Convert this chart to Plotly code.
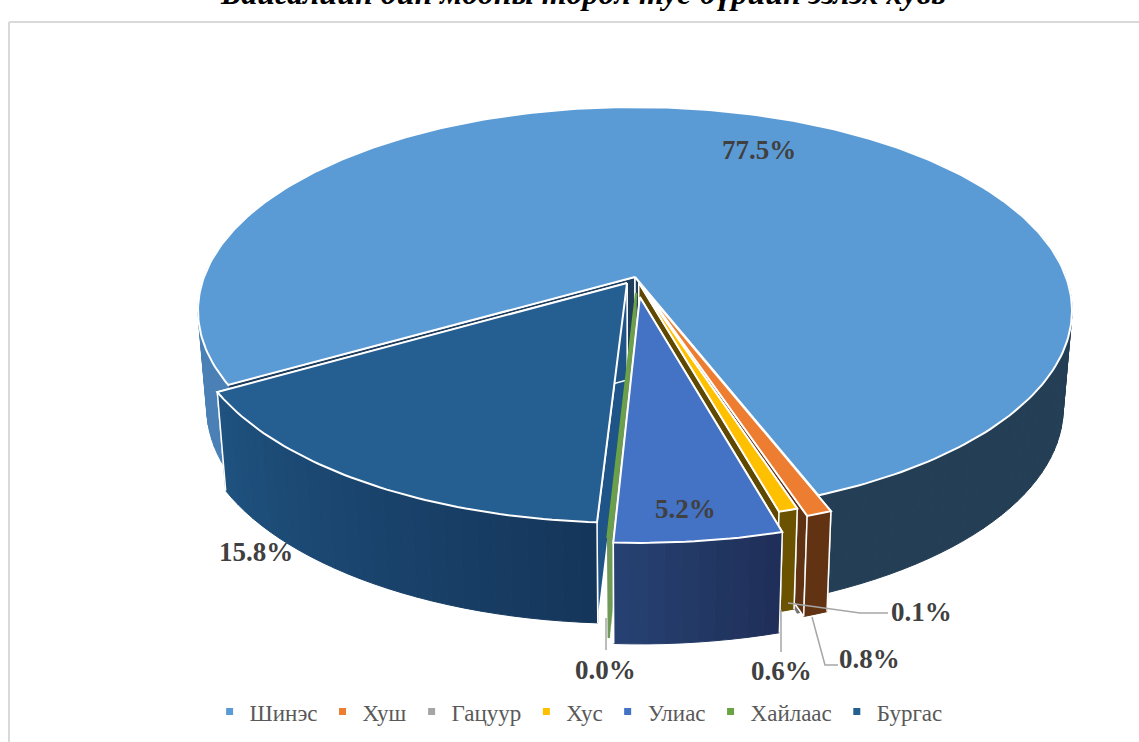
# plot.py
# 3D-looking exploded pie: slices are projected from their values with a small perspective helper

import math

import plotly.graph_objects as go

# Data
species = ["Шинэс", "Хуш", "Гацуур", "Хус", "Улиас", "Хайлаас", "Бургас"]
shares = [77.5, 0.8, 0.1, 0.6, 5.2, 0.04, 15.8]
title_text = "Байгалийн ойн модны төрөл тус бүрийн эзлэх хувь"

# Styling per slice
top_colors = ["#5B9BD5", "#ED7D31", "#A5A5A5", "#FFC000", "#4472C4", "#6AA343", "#255E91"]
wall_from = ["#4A80B5", "#623313", "#6E6E6E", "#6B5200", "#1F2E58", "#6F9A58", "#15365A"]
wall_to = ["#243F55", "#623313", "#6E6E6E", "#6B5200", "#264272", "#6F9A58", "#1F5280"]
face_colors = ["#1F3E5E", "#5E3213", "#777777", "#5F4800", "#1F2E58", "#6F9A58", "#1E5487"]
explode = [0.0, 0.06, 0.045, 0.03, 0.1, 0.08, 0.035]
side_shift = [0, 0, 0, 0, 0, 0.007, 0]
# back to front, so nearer slices paint over the others
draw_order = [0, 6, 2, 1, 3, 5, 4]

# Projection of the pie disc onto the page (pixels)
CX, CY = 635, 277
A, B, K = 431, 198, 0.165
START = 240
WALL_X_SCALE = 0.98
WALL_DY, WALL_DY_SCALE = 97, 0.015

# Label positions and leader lines (pixels)
label_pos = [(759, 150), (869, 659), (921, 612), (781, 671), (685, 509), (605, 670), (256, 552)]
leaders = [
    [(812, 617), (825, 665), (838, 665)],
    [(788, 603), (860, 613), (888, 613)],
    [(781, 610), (781, 652)],
    [(606, 618), (606, 650)],
]


def top_point(u, v):
    w = 1 + K * v
    return CX + A * u / w, CY - B * v / w


def bottom_point(u, v):
    x, y = top_point(u, v)
    return CX + (x - CX) * WALL_X_SCALE, y + WALL_DY + WALL_DY_SCALE * (y - CY)


def rim(angle, off):
    a = math.radians(angle)
    return math.sin(a) + off[0], math.cos(a) + off[1]


def mix(c1, c2, t):
    rgb1 = [int(c1[i:i + 2], 16) for i in (1, 3, 5)]
    rgb2 = [int(c2[i:i + 2], 16) for i in (1, 3, 5)]
    return "rgb({},{},{})".format(*[round(p + (q - p) * t) for p, q in zip(rgb1, rgb2)])


def poly(pts, fill=None, line="white", width=1.5):
    pts = list(pts) + [pts[0]]
    return go.Scatter(
        x=[p[0] for p in pts],
        y=[p[1] for p in pts],
        mode="lines",
        fill="toself" if fill else None,
        fillcolor=fill,
        line=dict(color=line, width=width),
        hoverinfo="skip",
        showlegend=False,
    )


fig = go.Figure()

total = sum(shares)
edges = [START]
for s in shares:
    edges.append(edges[-1] + s / total * 360)

for i in draw_order:
    a0, a1 = edges[i], edges[i + 1]
    mid = math.radians((a0 + a1) / 2)
    off = (explode[i] * math.sin(mid) + side_shift[i], explode[i] * math.cos(mid))
    thin = shares[i] < 0.2
    outline = top_colors[i] if shares[i] < 0.05 else ("#D8D8D8" if thin else "white")
    width = 2.5 if shares[i] < 0.05 else 2

    # radial cut faces (the ones looking away end up under the slice top)
    for ang in (a0, a1):
        ru, rv = rim(ang, off)
        quad = [
            top_point(*off), top_point(ru, rv),
            bottom_point(ru, rv), bottom_point(*off),
        ]
        fig.add_trace(poly(quad, face_colors[i], "white" if not thin else face_colors[i], 1.5 if not thin else 0.5))

    # outer wall, split in narrow strips for the shading
    steps = max(2, math.ceil((a1 - a0) / 2))
    strip = (a1 - a0) / steps
    for n in range(steps):
        b0, b1 = a0 + n * strip, a0 + (n + 1) * strip
        if math.cos(math.radians(b0)) > 0.2 and math.cos(math.radians(b1)) > 0.2:
            continue  # back of the pie
        if i == 0:
            col = wall_from[0] if math.sin(math.radians(b0)) < 0 else wall_to[0]
        else:
            col = mix(wall_from[i], wall_to[i], (n + 0.5) / steps)
        quad = [
            top_point(*rim(b0, off)), top_point(*rim(b1, off)),
            bottom_point(*rim(b1, off)), bottom_point(*rim(b0, off)),
        ]
        fig.add_trace(poly(quad, col, col, 1))

    # white outline of the wall (sides only, Шинэс has its ends hidden)
    if i != 0 and not thin:
        for ang in (a0, a1):
            ru, rv = rim(ang, off)
            fig.add_trace(poly([top_point(ru, rv), bottom_point(ru, rv)], None, "white", 1.5))

    # top of the slice
    n_arc = max(2, math.ceil(a1 - a0))
    arc = [top_point(*rim(a0 + (a1 - a0) * n / n_arc, off)) for n in range(n_arc + 1)]
    fig.add_trace(poly([top_point(*off)] + arc, top_colors[i], outline, width))

# leader lines
for pts in leaders:
    fig.add_trace(go.Scatter(
        x=[p[0] for p in pts], y=[p[1] for p in pts], mode="lines",
        line=dict(color="#A6A6A6", width=1.5), hoverinfo="skip", showlegend=False,
    ))

# legend entries
for name, col in zip(species, top_colors):
    fig.add_trace(go.Scatter(
        x=[None], y=[None], mode="markers", name=name,
        marker=dict(symbol="square", size=7, color=col),
    ))

# percent labels
for s, pos in zip(shares, label_pos):
    fig.add_annotation(
        x=pos[0], y=pos[1], text=f"<b>{s:.1f}%</b>", showarrow=False,
        font=dict(family="Liberation Serif", size=27, color="#404040"),
    )

# the title sits half above the page in the reference
fig.add_annotation(
    xref="paper", yref="paper", x=0.512, y=1.01, yanchor="middle",
    text=f"<b><i>{title_text}</i></b>", showarrow=False,
    font=dict(family="Liberation Serif", size=32, color="black"),
)

fig.update_layout(
    width=1139,
    height=742,
    margin=dict(l=0, r=0, t=0, b=0),
    paper_bgcolor="white",
    plot_bgcolor="white",
    xaxis=dict(range=[0, 1139], visible=False, fixedrange=True),
    yaxis=dict(range=[742, 0], visible=False, fixedrange=True),
    legend=dict(
        orientation="h", x=0.508, xanchor="center", y=0.041, yanchor="middle",
        font=dict(family="Liberation Serif", size=23, color="#595959"),
        bgcolor="rgba(0,0,0,0)",
    ),
    shapes=[
        dict(type="line", x0=9, x1=1139, y0=22, y1=22, line=dict(color="#D9D9D9", width=2)),
        dict(type="line", x0=9, x1=9, y0=22, y1=742, line=dict(color="#D9D9D9", width=2)),
    ],
)

fig.write_html(
    "out.html",
    config={"displayModeBar": False},
    post_script="document.body.style.margin='0';",
)
